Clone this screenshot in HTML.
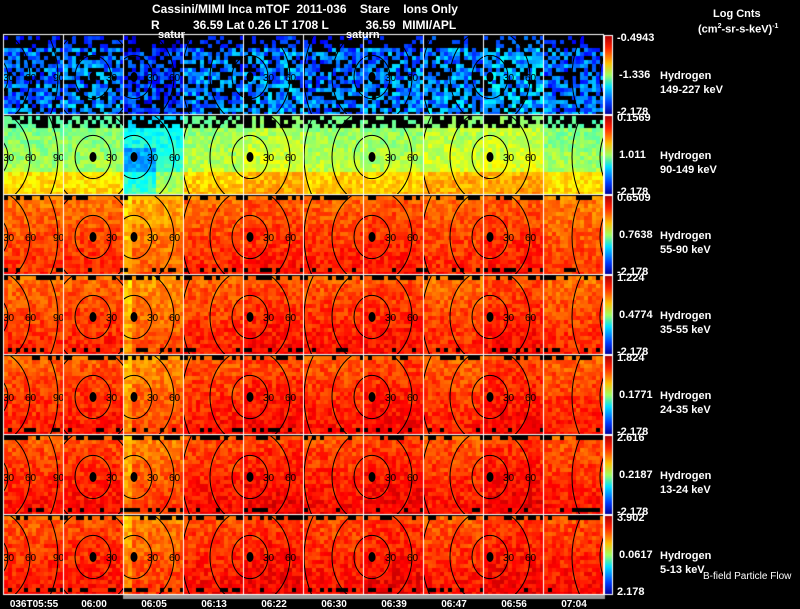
<!DOCTYPE html>
<html><head><meta charset="utf-8">
<style>
html,body{margin:0;padding:0;background:#000;}
#root{position:relative;width:800px;height:609px;background:#000;overflow:hidden;font-family:"Liberation Sans",sans-serif;color:#fff;}
.t{position:absolute;white-space:nowrap;font-size:11px;line-height:12px;}
canvas{position:absolute;left:0;top:0;}
svg{position:absolute;left:0;top:0;}
</style></head>
<body>
<div id="root">
<canvas id="cv" width="800" height="609"></canvas>
<svg id="ov" width="800" height="609"></svg>
<div class="t" style="left:152px;top:3px;font-size:12px;font-weight:bold;">Cassini/MIMI Inca mTOF&nbsp; 2011-036&nbsp;&nbsp;&nbsp; Stare&nbsp;&nbsp;&nbsp; Ions Only</div>
<div class="t" style="left:151px;top:19px;font-size:12px;font-weight:bold;">R&nbsp;&nbsp;&nbsp;&nbsp;&nbsp;&nbsp;&nbsp;&nbsp;&nbsp; 36.59 Lat 0.26 LT 1708 L&nbsp;&nbsp;&nbsp;&nbsp;&nbsp;&nbsp;&nbsp;&nbsp;&nbsp;&nbsp; 36.59&nbsp; MIMI/APL</div>
<div class="t" style="left:158px;top:29px;font-weight:bold;">satur</div>
<div class="t" style="left:346px;top:29px;font-weight:bold;">saturn</div>
<div class="t" style="left:713px;top:8px;font-weight:bold;">Log Cnts</div>
<div class="t" style="left:698px;top:21px;font-weight:bold;">(cm<sup style="font-size:7px">2</sup>-sr-s-keV)<sup style="font-size:7px">-1</sup></div>
<div class="t" style="left:703px;top:571px;font-size:10px;">B-field Particle Flow</div>
<div id="labels"></div>
</div>
<script>
// data
const energyBands = ["149-227 keV","90-149 keV","55-90 keV","35-55 keV","24-35 keV","13-24 keV","5-13 keV"];
const cbarTop = ["-0.4943","0.1569","0.6509","1.224","1.824","2.616","3.902"];
const cbarMid = ["-1.336","1.011","0.7638","0.4774","0.1771","0.2187","0.0617"];
const cbarBot = ["-2.178","-2.178","-2.178","-2.178","-2.178","-2.178","2.178"];
const timeLabels = ["036T05:55","06:00","06:05","06:13","06:22","06:30","06:39","06:47","06:56","07:04"];
// mean intensity per panel (0..1 of colour scale)
const row0 = [0.30,0.32,0.24,0.31,0.33,0.30,0.32,0.33,0.36,0.30];
const row1 = [0.52,0.52,0.40,0.54,0.57,0.54,0.54,0.57,0.58,0.52];
const row2 = [0.79,0.80,0.74,0.80,0.82,0.81,0.82,0.80,0.82,0.78];
const row3 = [0.80,0.81,0.76,0.81,0.83,0.82,0.83,0.80,0.83,0.80];
const row4 = [0.81,0.82,0.77,0.82,0.84,0.82,0.84,0.81,0.84,0.81];
const row5 = [0.82,0.83,0.78,0.83,0.85,0.83,0.85,0.82,0.85,0.82];
const row6 = [0.82,0.83,0.78,0.83,0.85,0.83,0.85,0.82,0.85,0.83];
const levels = [row0,row1,row2,row3,row4,row5,row6];
// flow centre (pixel x) for each column's contours
const flowCentre = [-10,93,134,250,250,372,372,490,490,640];

const X0=4, PW=60, Y0=36, PH=78, RS=80, NC=10, CS=4;
const cv=document.getElementById('cv'), ctx=cv.getContext('2d');
function jet(v){v=Math.max(0,Math.min(1,v));
 const r=Math.max(0,Math.min(1,1.5-Math.abs(4*v-3))),g=Math.max(0,Math.min(1,1.5-Math.abs(4*v-2))),b=Math.max(0,Math.min(1,1.5-Math.abs(4*v-1)));
 return `rgb(${r*255|0},${g*255|0},${b*255|0})`;}
function tex(a,b,c){let h=(a*73856093)^(b*19349663)^(c*83492791);h=(h^(h>>13))*1274126177;return ((h>>>0)%1000)/1000;}
for(let r=0;r<7;r++){
 const y0=Y0+r*RS;
 for(let c=0;c<NC;c++){
  const x0=X0+c*PW, lv=levels[r][c];
  for(let j=0;j<Math.ceil(PH/CS);j++)for(let i=0;i<15;i++){
   const fy=j/(PH/CS), t=tex(r,c*100+i,j);
   let v=lv+0.08*(fy-0.4)+(t-0.5)*(r==0?0.3:0.1);
   if(r==0) v-=0.06*fy;
   if(r==1 && fy>0.7) v+=0.1;
   if(r==1 && c==2 && fy>0.4 && i<8) v-=0.12;
   if(c==2&&i<2&&r>1) v-=0.06;
   let black=false;
   if(r==0) black = t>0.68 || (j<3&&t>0.3);
   else if(r==1) black = j<3 && t>0.45;
   else black = (j==0&&t>0.55)||(j==Math.floor(PH/CS)-1&&t>0.7);
   ctx.fillStyle=black?'#000':jet(v);
   ctx.fillRect(x0+i*CS,y0+j*CS,CS,Math.min(CS,y0+PH-(y0+j*CS)));
  }
 }
 // colorbar
 const g=ctx.createLinearGradient(0,y0,0,y0+PH);
 [[0,'#b00000'],[0.15,'#ff2000'],[0.35,'#ffc000'],[0.5,'#a0ff60'],[0.65,'#00e0ff'],[0.85,'#0040ff'],[1,'#0000a0']].forEach(s=>g.addColorStop(s[0],s[1]));
 ctx.fillStyle=g;ctx.fillRect(605,y0,7,PH);
 ctx.strokeStyle='#fff';ctx.lineWidth=1;ctx.strokeRect(604.5,y0-0.5,8,PH+1);
}
// white grid lines
ctx.fillStyle='#fff';
for(let c=0;c<=NC;c++) ctx.fillRect(X0+c*PW-1,Y0-2,1,7*RS);
for(let r=0;r<=7;r++) ctx.fillRect(X0-1,Y0+r*RS-2,PW*NC+1,1);
ctx.fillStyle='#999';ctx.fillRect(123,595,482,4);

// contours
const ov=document.getElementById('ov'),NS='http://www.w3.org/2000/svg';
let defs=document.createElementNS(NS,'defs');ov.appendChild(defs);
const ringLabels=[30,60,90];
for(let r=0;r<7;r++)for(let c=0;c<NC;c++){
 const x0=X0+c*PW,y0=Y0+r*RS,id='cp'+r+'_'+c;
 const cp=document.createElementNS(NS,'clipPath');cp.setAttribute('id',id);
 const rc=document.createElementNS(NS,'rect');rc.setAttribute('x',x0);rc.setAttribute('y',y0);rc.setAttribute('width',PW-1);rc.setAttribute('height',PH);
 cp.appendChild(rc);defs.appendChild(cp);
 const g=document.createElementNS(NS,'g');g.setAttribute('clip-path','url(#'+id+')');
 
 
 const cx=flowCentre[c],cy=y0+PH/2+2;
 [18,40,68].forEach((rad,k)=>{
  const e=document.createElementNS(NS,'ellipse');
  e.setAttribute('cx',cx);e.setAttribute('cy',cy);e.setAttribute('rx',rad);e.setAttribute('ry',rad*1.2);
  e.setAttribute('fill','none');e.setAttribute('stroke','#000');e.setAttribute('stroke-width','1');
  g.appendChild(e);
  const tx=document.createElementNS(NS,'text');
  tx.setAttribute('x',cx+rad-5);tx.setAttribute('y',cy+4);tx.setAttribute('font-size','10');
  tx.setAttribute('font-family','Liberation Sans, sans-serif');tx.setAttribute('fill','#000');
  tx.textContent=ringLabels[k];g.appendChild(tx);
 });
 const d=document.createElementNS(NS,'ellipse');
 d.setAttribute('cx',cx);d.setAttribute('cy',cy);d.setAttribute('rx',3.5);d.setAttribute('ry',5);d.setAttribute('fill','#000');
 g.appendChild(d);
 ov.appendChild(g);
}
// labels
const L=document.getElementById('labels');
function lab(txt,x,y,name,extra){const d=document.createElement('div');d.className='t';d.style.left=x+'px';d.style.top=y+'px';if(extra)d.style.cssText+=extra;d.textContent=txt;
 
 
 L.appendChild(d);}
for(let r=0;r<7;r++){
 const y0=Y0+r*RS;
 lab(cbarTop[r],617,y0-4,'colorbar-max','font-weight:bold;');
 lab(cbarMid[r],619,y0+PH/2-6,'colorbar-mid','font-weight:bold;');
 lab(cbarBot[r],617,y0+PH-8,'colorbar-min','font-weight:bold;');
 lab('Hydrogen',660,y0+34,'species-label','font-weight:bold;');
 lab(energyBands[r],660,y0+48,'energy-band-label','font-weight:bold;');
}
for(let c=0;c<NC;c++){
 lab(timeLabels[c],X0+c*PW+PW/2,599,'time-tick','transform:translateX(-50%);font-size:10px;font-weight:bold;');
}
</script>
</body></html>
